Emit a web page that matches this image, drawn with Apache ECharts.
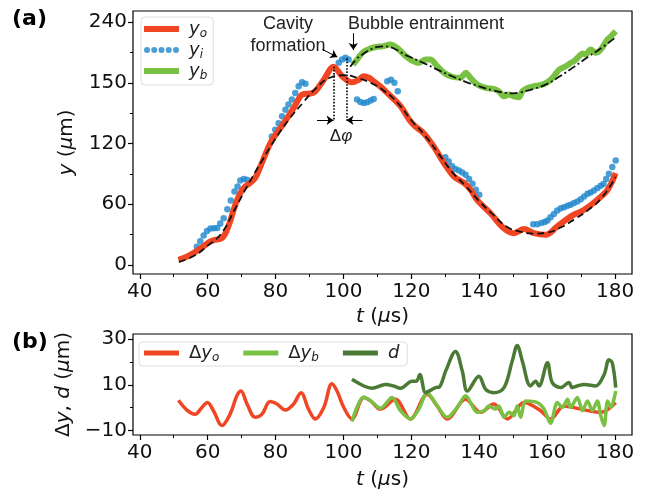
<!DOCTYPE html>
<html><head><meta charset="utf-8">
<script src="https://cdn.jsdelivr.net/npm/echarts@6/dist/echarts.min.js"></script>
<style>html,body{margin:0;padding:0;background:#fff}#c{width:654px;height:491px}</style>
</head><body><div id="c"></div>
<script>
// ---------- panel (a) data ----------
const tO = [51.4,53.5,55.8,58.2,60.7,62.5,64,65.2,66.6,68,69.6,71.1,72.5,74,75.5,78.4,80.5,82.4,85.3,87.3,88.3,90.3,91.7,94.2,97.1,99.6,102.5,104.5,105.9,107.5,108.9,111,112.9,116.8,119.7,121.5,123.7,126.6,129.6,132.5,135.5,137.5,139.4,143.3,147.3,150.2,153.2,156.1,159.6,163,167,170.9,174.8,177.8,180.2];
const yO = [5,7.5,11.6,17,23,25,26,31,43,58,71,77.6,81,86,97,120,131,140,155,166.7,169,169.4,171.6,183,196,186.5,180.5,183,186.5,185,181.5,176,170,157,142,136,130,117,100.7,87.5,81,74,64,51,36,31.4,35.4,31.4,29.7,38,48,54.5,64.4,74.3,90.8];

const tI = [56.8,57.8,58.8,59.8,60.8,61.8,62.8,63.7,64.7,65.8,66.8,67.9,68.8,69.6,70.6,71.6,
            78.9,79.9,80.9,81.9,82.9,83.8,84.8,85.8,86.8,87.8,88.8,
            98.6,99.6,100.6,101.5,
            104,105,106,107,108,108.9,
            112.9,114,115,116,
            130,131,132,133,134,135,136,137,138,139,140,
            155.9,157.1,158.3,159.3,160.1,161,162,163,164,165,166,166.9,167.9,168.9,169.9,170.9,171.9,172.8,173.8,174.8,175.8,176.6,177.4,178.2,179.2,180.2];
const yI = [18,23.5,29,33.5,36,36.3,36.5,41,46,55,63.7,72.6,77.6,83.5,84.9,84.2,
            127,133.7,140,147,153.5,158.5,163.4,170,176.6,180.6,179,
            199.8,203,204.7,203,
            163.4,161,160,160.8,162.4,164,
            181.6,183,180,171.6,
            106.5,102.3,97.4,94.8,93.4,91.4,89,85,80.2,74.3,69.3,
            40.3,40.3,41.3,42.3,43.9,47.2,50.2,53.8,56.1,57.1,58.4,59.4,61.1,62.7,65,67.7,70.3,71.6,73.6,76,78.2,80,85,90,96.8,103.3];

const tB = [102.8,104,106,108,109.9,111.5,113.8,115.8,117.8,119.7,122.2,124.2,125.6,127.6,129.6,132,134.5,136,137.4,139.4,141.9,144.3,145.8,147.3,148.7,150.2,151.7,152.7,154.2,156.1,158.6,160.5,162,163.5,165.5,167,167.9,169.4,170.4,171.4,172.8,174.3,175.8,177.8,178.8,180.2];
const yB = [198,203,211,214,215.6,216,218,214.6,208,203,199.8,203,203,196.4,190,186,185,190,185,178.3,175,174,171.6,166.7,168.4,166.7,165.7,171.6,175,176.6,178.3,181.6,186.5,193,196.4,199.8,201.4,206.3,209,208,213,209.7,213,222.9,226,231];

const tFitO = [51.5,56,60,64,68,72,76,80,84,88,92,96,100,104,108,112,116,120,124,128,132,136,140,144,148,152,156,160,164,168,172,176,180.2];
const yFitO = [3,9,19,31,55,80,103,125,144,160,175,185,187.5,185,180,172,160,143,128,110,92,78,63,50,38,33,31,32,37,45,54,66,87];

const tFitB = [102,104,106,108,110,112,114,116,118,120,124,128,132,136,140,144,148,150,152,156,160,164,168,172,176,180.2];
const yFitB = [196,204,209,213,215.5,216,215,212,208,205,199,192.5,186.5,181,176.5,172.5,170,169.5,170.5,174,179,187,196,205.5,214.5,225];

// ---------- panel (b) data ----------
const tDO = [51.4,53.9,56.3,58.3,59.9,61.7,64.2,66.6,68.6,69.8,71.6,74,76,78.4,80.4,82.9,85.3,87.5,89.7,91.7,94.2,96.6,98.1,100.1,102.5,106,108,110.9,115.3,119.7,124.7,127.6,130.6,136,140.4,144.3,148.3,153.2,158.1,161,165,169.9,175.8,180.2];
const dyO = [3.3,-1,-2.8,0.1,2.3,-1.3,-7.8,-2.8,5.2,7.3,1.6,-4.2,-2.8,2.7,1.6,-1,1.6,6.6,-0.6,-4.9,0.1,10.5,7.3,0.1,-4.9,4.5,3,-0.6,3.7,-4.9,5.9,0.8,-4.9,3.7,-2,1.6,-4.9,2.3,-1.3,-4.9,0.8,-0.6,-2,2.3];

const tDB = [102.5,106,108,110.9,114.3,116.8,119.7,122.2,124.7,127.6,130.6,133.5,136,139.4,141.5,142.8,144.8,145.8,147.3,148.8,150.2,151.2,152.2,153.7,157.1,159.1,161,163,164.5,166,166.9,168.9,170.4,171.9,173.3,174.8,175.8,176.8,177.8,178.8,180.2];
const dyB = [-6,4.7,3,-0.2,4.5,-1.3,-4.9,-0.6,6.6,0.8,-4.2,0.1,5.2,-2,-1.3,0.8,-0.6,0.8,-4.2,-2,-3.5,0.8,-4.2,3,2.3,-0.6,-6.8,2.3,0.1,3.7,0.1,4.5,-1.3,3,-1.3,3,-3.5,-7.8,3,0.1,7.3];

const tD = [102.5,106,108.4,112.4,114.8,116.8,120.2,121.5,122.5,124.2,125.6,127.1,128.2,130.1,133,135,136.5,139.9,141.9,144.3,147.3,149.7,151.2,152.7,155.1,156.6,157.6,160.1,161.5,164,166.4,167.4,168.9,170.9,174.3,176.8,178.2,179.2,180.2];
const dD = [12.4,9.5,8.5,10.2,9.5,8.5,11.6,11.6,14.5,6.6,7.6,8.8,9,16,24.6,16,7.3,13.8,8,6.6,8.8,20.3,27.2,20.3,9.5,11.6,9.5,19.6,11,8.8,11,8.8,9.5,10.2,9.5,14.5,21,19.5,8.8];

// ---------- ticks ----------
const xTicks = [40,60,80,100,120,140,160,180];
const xMinor = [50,70,90,110,130,150,170];
const yTicksA = [0,60,120,180,240];
const yTickLabelsA = ['0','60','120','150','240'];
const yMinorA = [30,90,150,210];
const yTicksB = [-10,10,30];
const yTickLabelsB = ['\u221210','10','30'];
const yMinorB = [0,20];

// annotation anchors (data coordinates)
const peakO = 97.1, peakI = 100.9, arrowLevel = 143;

const C_RED = '#f04623', C_BLUE = '#1f87cc', C_GREEN = '#78c142', C_DGREEN = '#4b7a34';
const FONT = 'DejaVu Sans';
const zip = (a, b) => a.map((v, i) => [v, b[i]]);

const tickLbl = (vals, labels) => (v) => { const i = vals.indexOf(v); return i >= 0 ? labels[i] : ''; };

function mainX(grid, nameGap) {
  return { gridIndex: grid, type: 'value', min: 38, max: 185, position: 'bottom',
    axisLine: { show: false, onZero: false }, splitLine: { show: false },
    axisTick: { customValues: xTicks, length: 5, lineStyle: { color: '#000', width: 1.2 } },
    axisLabel: { customValues: xTicks, fontSize: 20, fontFamily: FONT, color: '#111', margin: 8 },
    name: '{i|t} ({i|\u03bc}s)', nameLocation: 'middle', nameGap: nameGap,
    nameTextStyle: { fontSize: 20, fontFamily: FONT, color: '#111',
      rich: { i: { fontStyle: 'italic', fontSize: 20, fontFamily: FONT, color: '#111' } } } };
}
function minorX(grid) {
  return { gridIndex: grid, type: 'value', min: 38, max: 185, position: 'bottom', offset: 0,
    axisLine: { show: false, onZero: false }, splitLine: { show: false },
    axisTick: { customValues: xMinor, length: 3, lineStyle: { color: '#000', width: 1 } },
    axisLabel: { show: false } };
}
function mainY(grid, min, max, ticks, labels, name, gap) {
  return { gridIndex: grid, type: 'value', min: min, max: max, position: 'left',
    axisLine: { show: false, onZero: false }, splitLine: { show: false },
    axisTick: { customValues: ticks, length: 5, lineStyle: { color: '#000', width: 1.2 } },
    axisLabel: { customValues: ticks, formatter: tickLbl(ticks, labels), fontSize: 20, fontFamily: FONT, color: '#111', margin: 6 },
    name: name, nameLocation: 'middle', nameGap: gap,
    nameTextStyle: { fontSize: 20, fontFamily: FONT, color: '#111',
      rich: { i: { fontStyle: 'italic', fontSize: 20, fontFamily: FONT, color: '#111' } } } };
}
function minorY(grid, min, max, ticks) {
  return { gridIndex: grid, type: 'value', min: min, max: max, position: 'left', offset: 0,
    axisLine: { show: false, onZero: false }, splitLine: { show: false },
    axisTick: { customValues: ticks, length: 3, lineStyle: { color: '#000', width: 1 } },
    axisLabel: { show: false } };
}

const legendRich = {
  i: { fontStyle: 'italic', fontSize: 18, fontFamily: FONT, color: '#222', lineHeight: 22 },
  n: { fontSize: 18, fontFamily: FONT, color: '#222', lineHeight: 22 },
  s: { fontStyle: 'italic', fontSize: 12, fontFamily: FONT, color: '#222', lineHeight: 13, verticalAlign: 'bottom' }
};
const legendNames = {
  'y_o': '{i|y}{s|o}', 'y_i': '{i|y}{s|i}', 'y_b': '{i|y}{s|b}',
  '\u0394y_o': '{n|\u0394}{i|y}{s|o}', '\u0394y_b': '{n|\u0394}{i|y}{s|b}', 'd': '{i|d}'
};
const dotsIcon = 'path://M0,3a3,3 0 1,0 6,0a3,3 0 1,0 -6,0ZM7.25,3a3,3 0 1,0 6,0a3,3 0 1,0 -6,0ZM14.5,3a3,3 0 1,0 6,0a3,3 0 1,0 -6,0ZM21.75,3a3,3 0 1,0 6,0a3,3 0 1,0 -6,0ZM29,3a3,3 0 1,0 6,0a3,3 0 1,0 -6,0Z';

const arrowLine = { symbol: ['none', 'arrow'], symbolSize: 7, silent: true, label: { show: false },
  lineStyle: { color: '#000', width: 1, type: 'solid' }, emphasis: { disabled: true } };

const option = {
  animation: false,
  backgroundColor: '#fff',
  grid: [
    { left: 133, top: 11, width: 499, height: 263, show: true, borderColor: '#000', borderWidth: 1.2 },
    { left: 133, top: 334, width: 499, height: 102, show: true, borderColor: '#000', borderWidth: 1.2 }
  ],
  xAxis: [mainX(0, 29), minorX(0), mainX(1, 35), minorX(1)],
  yAxis: [
    mainY(0, -9, 251, yTicksA, yTickLabelsA, '{i|y} ({i|\u03bc}m)', 56),
    minorY(0, -9, 251, yMinorA),
    mainY(1, -11.9, 32.2, yTicksB, yTickLabelsB, '\u0394{i|y}, {i|d} ({i|\u03bc}m)', 58),
    minorY(1, -11.9, 32.2, yMinorB)
  ],
  legend: [
    { orient: 'vertical', left: 141, top: 17, itemWidth: 35, itemHeight: 6, itemGap: 1,
      padding: [3, 6, 3, 3], backgroundColor: '#fff', borderColor: '#ddd', borderWidth: 1, borderRadius: 4,
      data: [{ name: 'y_o', icon: 'rect' }, { name: 'y_i', icon: dotsIcon }, { name: 'y_b', icon: 'rect' }],
      formatter: (n) => legendNames[n], textStyle: { padding: [0, 0, 0, 5], rich: legendRich }, selectedMode: false },
    { orient: 'horizontal', left: 139, top: 342, itemWidth: 35, itemHeight: 5, itemGap: 24,
      padding: [2, 8, 2, 5], backgroundColor: '#fff', borderColor: '#ddd', borderWidth: 1, borderRadius: 4,
      data: [{ name: '\u0394y_o', icon: 'rect' }, { name: '\u0394y_b', icon: 'rect' }, { name: 'd', icon: 'rect' }],
      formatter: (n) => legendNames[n], textStyle: { padding: [0, 0, 0, 5], rich: legendRich }, selectedMode: false }
  ],
  graphic: [
    { type: 'text', left: 12, top: 8, style: { text: '(a)', font: 'bold 22px "DejaVu Sans"', fill: '#000' } },
    { type: 'text', left: 12, top: 331, style: { text: '(b)', font: 'bold 22px "DejaVu Sans"', fill: '#000' } },
    { type: 'text', x: 288, y: 13, style: { text: 'Cavity\nformation', font: '18px "Liberation Sans"', fill: '#222', align: 'center', lineHeight: 22 } },
    { type: 'text', x: 348, y: 13, style: { text: 'Bubble entrainment', font: '18px "Liberation Sans"', fill: '#222', lineHeight: 22 } },
    { type: 'text', x: 341, y: 128, style: { text: '{n|\u0394}{i|\u03c6}', align: 'center',
        rich: { n: { font: '17px "Liberation Sans"', fill: '#222' }, i: { font: 'italic 17px "Liberation Sans"', fill: '#222' } } } }
  ],
  series: [
    { name: 'y_i', type: 'scatter', xAxisIndex: 0, yAxisIndex: 0, data: zip(tI, yI), symbolSize: 6.5,
      itemStyle: { color: C_BLUE }, z: 2, silent: true },
    { name: 'y_o', type: 'line', xAxisIndex: 0, yAxisIndex: 0, data: zip(tO, yO), smooth: 0.35, showSymbol: false,
      lineStyle: { color: C_RED, width: 6 }, itemStyle: { color: C_RED }, z: 3, silent: true },
    { name: 'y_b', type: 'line', xAxisIndex: 0, yAxisIndex: 0, data: zip(tB, yB), smooth: 0.3, showSymbol: false,
      lineStyle: { color: C_GREEN, width: 6 }, itemStyle: { color: C_GREEN }, z: 3, silent: true },
    { name: 'fitO', type: 'line', xAxisIndex: 0, yAxisIndex: 0, data: zip(tFitO, yFitO), smooth: 0.5, showSymbol: false,
      lineStyle: { color: '#111', width: 1.8, type: [7, 4] }, z: 5, silent: true,
      markLine: Object.assign({}, arrowLine, {
        data: [
          [{ coord: [peakO, 196], symbol: 'none' }, { coord: [peakO, arrowLevel], symbol: 'none', lineStyle: { type: 'dotted', width: 1.6 } }],
          [{ coord: [peakI, 204], symbol: 'none' }, { coord: [peakI, arrowLevel], symbol: 'none', lineStyle: { type: 'dotted', width: 1.6 } }],
          [{ coord: [92.2, arrowLevel] }, { coord: [peakO, arrowLevel] }],
          [{ coord: [105.6, arrowLevel] }, { coord: [peakI, arrowLevel] }],
          [{ coord: [93.8, 213] }, { coord: [98.2, 205.5] }],
          [{ coord: [102.9, 229] }, { coord: [102.9, 212.5] }]
        ] }) },
    { name: 'fitB', type: 'line', xAxisIndex: 0, yAxisIndex: 0, data: zip(tFitB, yFitB), smooth: 0.5, showSymbol: false,
      lineStyle: { color: '#111', width: 1.8, type: [8, 3, 2, 3] }, z: 5, silent: true },
    { name: '\u0394y_o', type: 'line', xAxisIndex: 2, yAxisIndex: 2, data: zip(tDO, dyO), smooth: 0.35, showSymbol: false,
      lineStyle: { color: C_RED, width: 3.5 }, itemStyle: { color: C_RED }, z: 3, silent: true },
    { name: '\u0394y_b', type: 'line', xAxisIndex: 2, yAxisIndex: 2, data: zip(tDB, dyB), smooth: 0.3, showSymbol: false,
      lineStyle: { color: C_GREEN, width: 3.5 }, itemStyle: { color: C_GREEN }, z: 4, silent: true },
    { name: 'd', type: 'line', xAxisIndex: 2, yAxisIndex: 2, data: zip(tD, dD), smooth: 0.35, showSymbol: false,
      lineStyle: { color: C_DGREEN, width: 3.5 }, itemStyle: { color: C_DGREEN }, z: 4, silent: true }
  ]
};
const chart = echarts.init(document.getElementById('c'), null, { renderer: 'canvas' });
chart.setOption(option);
</script></body></html>
